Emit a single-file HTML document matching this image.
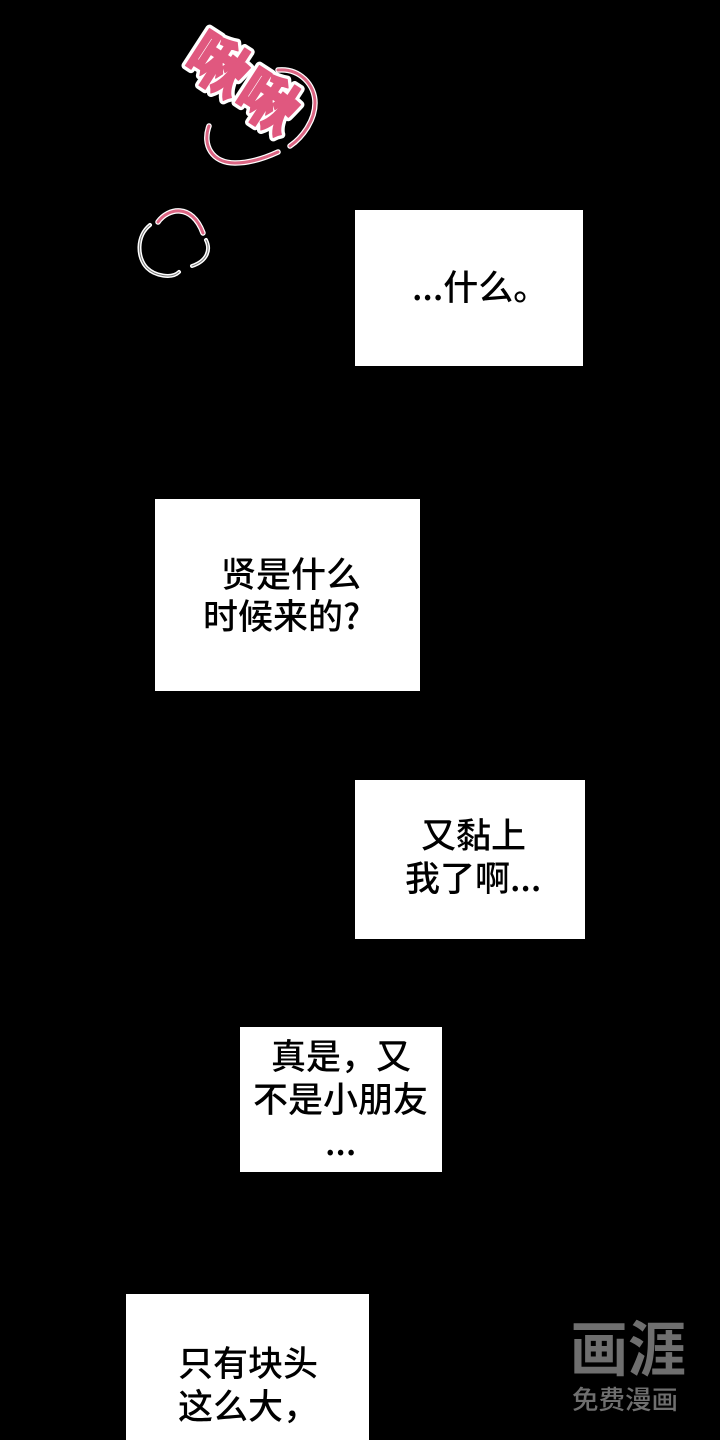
<!DOCTYPE html>
<html lang="zh">
<head>
<meta charset="utf-8">
<style>
html,body{margin:0;padding:0;background:#000}
#p{position:relative;width:720px;height:1440px;overflow:hidden;background:#000;font-family:"Liberation Sans","Noto Sans CJK SC",sans-serif}
.b{position:absolute;background:#fff}
.t{position:absolute;color:#000;font-size:35px;line-height:43px;font-weight:500;white-space:nowrap;font-family:"Noto Sans CJK SC",sans-serif}
svg{position:absolute;left:0;top:0}
</style>
</head>
<body>
<div id="p">
<svg width="720" height="1440" viewBox="0 0 720 1440" fill="none" stroke-linecap="round">
<g stroke="#fff" stroke-width="5.5">
<path d="M278 70C300 68 315 85 315 103C315 120 303 137 290 146"/>
<path d="M209 126C202 145 212 163 235 163C250 163 265 158 278 152"/>
<path d="M158 222C168 208 192 203 203 233"/>
</g>
<g stroke="#dc6684" stroke-width="3">
<path d="M278 70C300 68 315 85 315 103C315 120 303 137 290 146"/>
<path d="M209 126C202 145 212 163 235 163C250 163 265 158 278 152"/>
<path d="M158 222C168 208 192 203 203 233"/>
</g>
<g stroke="#fff" stroke-width="4">
<path d="M150 225C136 236 137 258 147 268C155 276 172 279 179 272"/>
<path d="M206 240C211 250 207 261 192 266"/>
</g>
<g stroke="#777" stroke-width="1">
<path d="M150 225C136 236 137 258 147 268C155 276 172 279 179 272"/>
<path d="M206 240C211 250 207 261 192 266"/>
</g>
<g font-family="'Noto Sans CJK SC',sans-serif" font-weight="900" font-size="60" text-anchor="middle" stroke-linejoin="round" stroke-linecap="butt">
<text transform="translate(206 83) rotate(33)" stroke="#fff" stroke-width="8" fill="#fff">啾</text>
<text transform="translate(256 120) rotate(33)" stroke="#fff" stroke-width="8" fill="#fff">啾</text>
<text transform="translate(206 83) rotate(33)" fill="#e0587f" stroke="#e0587f" stroke-width="1.2">啾</text>
<text transform="translate(256 120) rotate(33)" fill="#e0587f" stroke="#e0587f" stroke-width="1.2">啾</text>
</g>
<g font-family="'Noto Sans CJK SC',sans-serif" fill="#6f6f6f" text-anchor="middle">
<text x="628" y="1371" font-size="60" font-weight="700" textLength="116" lengthAdjust="spacingAndGlyphs">画涯</text>
<text x="625" y="1409" font-size="26" font-weight="500" textLength="106" lengthAdjust="spacingAndGlyphs">免费漫画</text>
</g>
</svg>

<div class="b" style="left:355px;top:210px;width:228px;height:156px"></div>
<div class="b" style="left:155px;top:499px;width:265px;height:192px"></div>
<div class="b" style="left:355px;top:780px;width:230px;height:159px"></div>
<div class="b" style="left:240px;top:1027px;width:202px;height:145px"></div>
<div class="b" style="left:126px;top:1294px;width:243px;height:146px"></div>

<div class="t" style="left:412px;top:264px">...什么。</div>
<div class="t" style="left:221px;top:551px">贤是什么</div>
<div class="t" style="left:203px;top:593px">时候来的?</div>
<div class="t" style="left:421px;top:812px">又黏上</div>
<div class="t" style="left:405px;top:855px">我了啊...</div>
<div class="t" style="left:271px;top:1033px">真是，又</div>
<div class="t" style="left:253px;top:1076px">不是小朋友</div>
<div class="t" style="left:325px;top:1119px">...</div>
<div class="t" style="left:178px;top:1340px">只有块头</div>
<div class="t" style="left:178px;top:1383px">这么大，</div>
</div>
</body>
</html>
